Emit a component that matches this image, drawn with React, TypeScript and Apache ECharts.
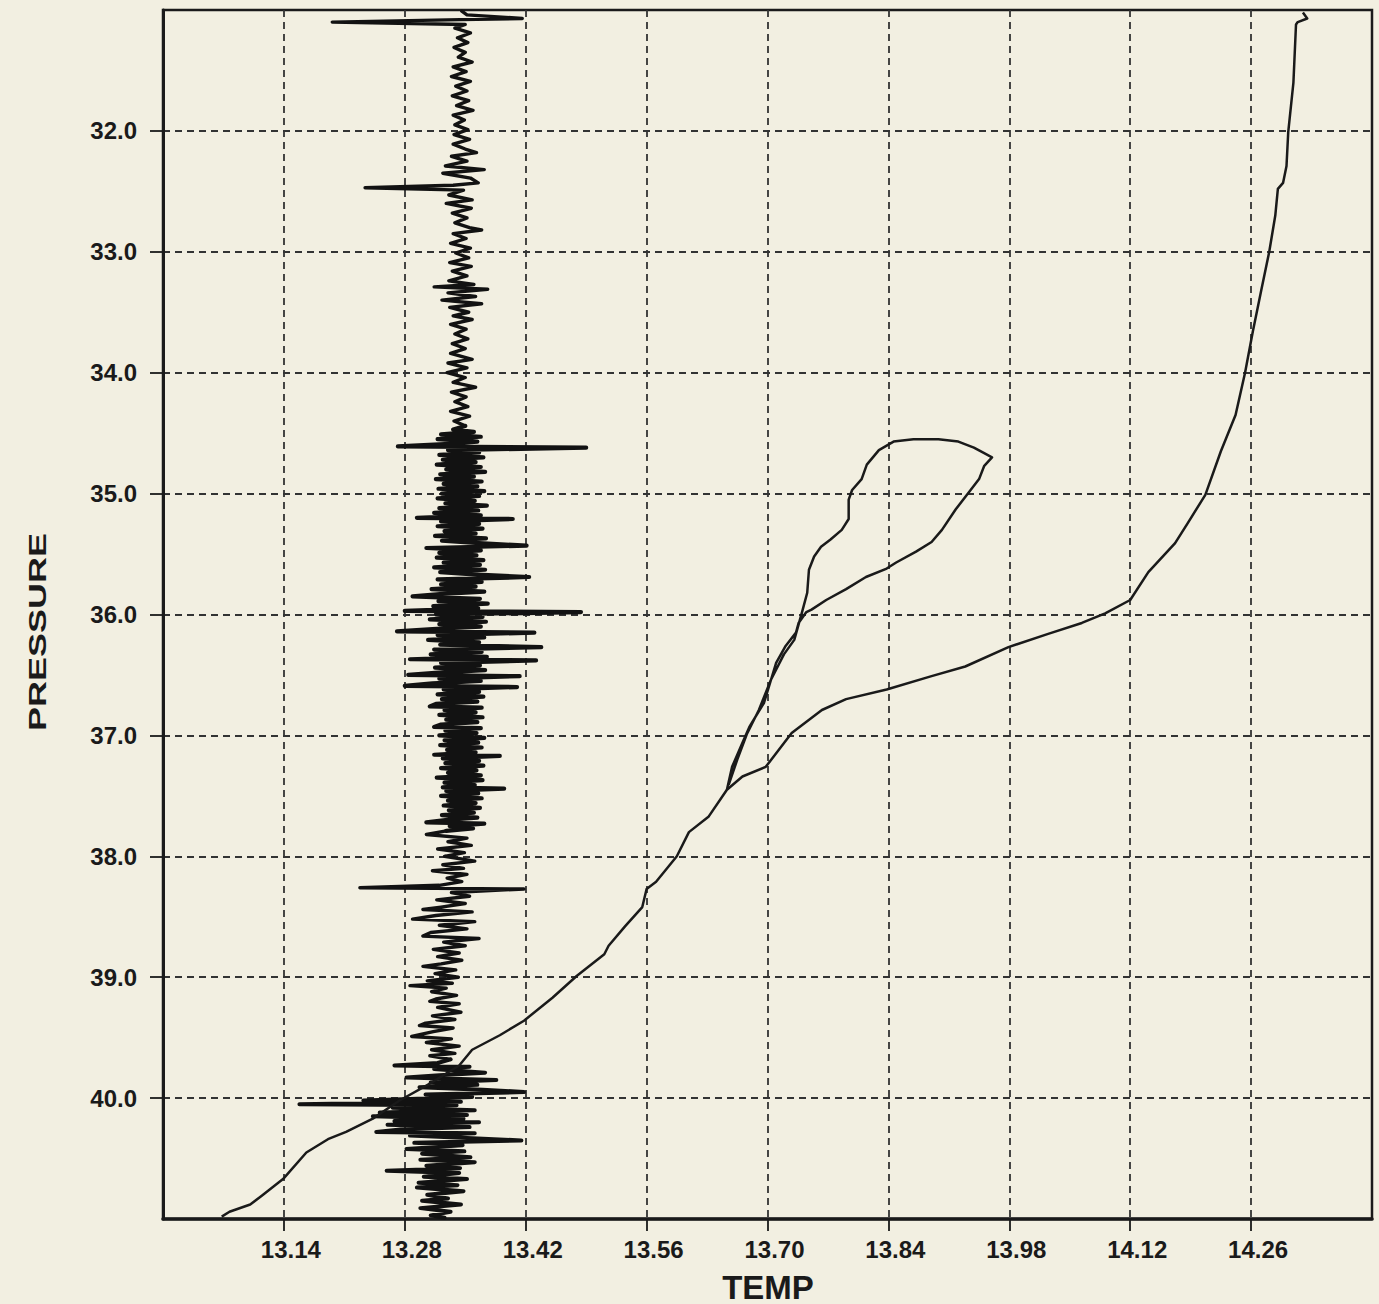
import React, { useEffect, useRef } from "react";
import * as echarts from "echarts";

// Axis origin of the TEMP axis (ticks every 0.14 counted from here)
const TEMP_ORIGIN = 13.0;
const TEMP_SPAN = 1.4;
const TEMP_STEP = 0.14;
const PRESSURE_MIN = 31;
const PRESSURE_MAX = 41;

const tempTickLabels = ["13.14", "13.28", "13.42", "13.56", "13.70", "13.84", "13.98", "14.12", "14.26"];
const pressureTickLabels = ["32.0", "33.0", "34.0", "35.0", "36.0", "37.0", "38.0", "39.0", "40.0"];

// Main temperature profile: [temp, pressure]
const profile: number[][] = [
  [14.320, 31.02], [14.325, 31.07], [14.314, 31.10], [14.312, 31.12], [14.309, 31.60], [14.303, 32.01],
  [14.301, 32.29], [14.297, 32.43], [14.291, 32.48], [14.288, 32.70], [14.281, 33.00], [14.272, 33.31],
  [14.262, 33.66], [14.253, 34.00], [14.242, 34.35], [14.225, 34.65], [14.207, 35.01], [14.187, 35.24],
  [14.172, 35.41], [14.141, 35.65], [14.120, 35.88], [14.091, 35.99], [14.064, 36.07], [14.025, 36.16],
  [13.979, 36.27], [13.929, 36.43], [13.890, 36.51], [13.838, 36.62], [13.791, 36.70], [13.763, 36.79],
  [13.728, 36.98], [13.698, 37.26], [13.671, 37.34], [13.653, 37.45], [13.632, 37.67], [13.609, 37.80],
  [13.595, 38.00], [13.571, 38.21], [13.560, 38.27], [13.555, 38.42], [13.535, 38.58], [13.516, 38.74],
  [13.511, 38.81], [13.479, 38.99], [13.451, 39.17], [13.418, 39.36], [13.390, 39.48], [13.358, 39.60],
  [13.343, 39.73], [13.309, 39.88], [13.274, 40.02], [13.243, 40.17], [13.212, 40.28], [13.191, 40.34],
  [13.166, 40.45], [13.139, 40.67], [13.114, 40.81], [13.101, 40.88], [13.077, 40.94], [13.068, 40.98],
];

// Loop branch: [temp, pressure]
const loop: number[][] = [
  [13.653, 37.45], [13.659, 37.26], [13.671, 37.06], [13.679, 36.93], [13.696, 36.73], [13.710, 36.40],
  [13.721, 36.26], [13.733, 36.15], [13.736, 36.07], [13.745, 35.98], [13.751, 35.96], [13.768, 35.88],
  [13.791, 35.79], [13.814, 35.69], [13.838, 35.62], [13.849, 35.57], [13.872, 35.48], [13.890, 35.40],
  [13.902, 35.30], [13.918, 35.13], [13.933, 34.99], [13.945, 34.88], [13.951, 34.77], [13.960, 34.70],
  [13.952, 34.67], [13.939, 34.62], [13.921, 34.57], [13.898, 34.55], [13.869, 34.55], [13.846, 34.57],
  [13.829, 34.64], [13.815, 34.76], [13.809, 34.88], [13.798, 34.97], [13.794, 35.05], [13.794, 35.21],
  [13.786, 35.30], [13.773, 35.38], [13.762, 35.44], [13.754, 35.52], [13.748, 35.63], [13.746, 35.82],
  [13.740, 35.98], [13.731, 36.21], [13.719, 36.33], [13.704, 36.54], [13.690, 36.79], [13.676, 36.99],
  [13.665, 37.20], [13.655, 37.41],
];

// Microstructure trace: [pressure, temp]
const noiseUpper: number[][] = [
  [31.01, 13.346], [31.04, 13.352], [31.07, 13.416], [31.08, 13.344], [31.10, 13.196], [31.12, 13.350],
  [31.15, 13.338], [31.19, 13.356], [31.23, 13.341], [31.27, 13.353], [31.31, 13.337], [31.35, 13.350],
  [31.39, 13.342], [31.43, 13.358], [31.47, 13.336], [31.51, 13.351], [31.55, 13.334], [31.59, 13.356],
  [31.63, 13.339], [31.67, 13.352], [31.71, 13.335], [31.75, 13.354], [31.79, 13.340], [31.83, 13.359],
  [31.87, 13.336], [31.91, 13.349], [31.95, 13.338], [31.99, 13.353], [32.03, 13.337], [32.07, 13.355],
  [32.11, 13.336], [32.15, 13.350], [32.18, 13.363], [32.21, 13.334], [32.25, 13.352], [32.29, 13.327],
  [32.32, 13.372], [32.35, 13.324], [32.39, 13.356], [32.43, 13.365], [32.45, 13.336], [32.47, 13.234],
  [32.49, 13.348], [32.53, 13.331], [32.57, 13.358], [32.60, 13.328], [32.64, 13.357], [32.68, 13.335],
  [32.72, 13.352], [32.76, 13.338], [32.80, 13.355], [32.82, 13.369], [32.85, 13.336], [32.89, 13.351],
  [32.93, 13.333], [32.97, 13.356], [33.01, 13.339], [33.05, 13.354], [33.09, 13.332], [33.12, 13.357],
  [33.16, 13.335], [33.20, 13.352], [33.24, 13.331], [33.27, 13.360], [33.29, 13.314], [33.31, 13.376],
  [33.34, 13.330], [33.37, 13.362], [33.40, 13.323], [33.43, 13.369], [33.46, 13.332], [33.50, 13.354],
  [33.53, 13.336], [33.56, 13.358], [33.60, 13.333], [33.64, 13.351], [33.68, 13.338], [33.72, 13.353],
  [33.76, 13.335], [33.80, 13.350], [33.84, 13.333], [33.89, 13.358], [33.92, 13.330], [33.96, 13.352],
  [34.00, 13.329], [34.04, 13.350], [34.08, 13.336], [34.12, 13.362], [34.16, 13.334], [34.20, 13.351],
  [34.24, 13.338], [34.28, 13.353], [34.32, 13.333], [34.36, 13.355], [34.40, 13.337], [34.44, 13.350],
];

const noiseBurst: number[][] = [
  [34.47, 13.336], [34.49, 13.360], [34.51, 13.322], [34.53, 13.368], [34.55, 13.318], [34.57, 13.364],
  [34.59, 13.326], [34.61, 13.272], [34.62, 13.490], [34.64, 13.330], [34.66, 13.366], [34.68, 13.320],
  [34.70, 13.371], [34.72, 13.324], [34.74, 13.362], [34.76, 13.317], [34.78, 13.368], [34.80, 13.328],
  [34.82, 13.373], [34.84, 13.321], [34.86, 13.360], [34.88, 13.316], [34.90, 13.369], [34.92, 13.325],
  [34.94, 13.364], [34.96, 13.319], [34.98, 13.372], [35.00, 13.323], [35.02, 13.366], [35.04, 13.318],
  [35.06, 13.361], [35.08, 13.327], [35.10, 13.375], [35.12, 13.320], [35.14, 13.365], [35.16, 13.314],
  [35.18, 13.368], [35.20, 13.294], [35.21, 13.405], [35.23, 13.322], [35.25, 13.366], [35.27, 13.318],
  [35.29, 13.370], [35.31, 13.326], [35.33, 13.362], [35.35, 13.315], [35.37, 13.374], [35.39, 13.323],
  [35.41, 13.366], [35.43, 13.421], [35.45, 13.305], [35.47, 13.368], [35.49, 13.320], [35.51, 13.363],
  [35.53, 13.317], [35.55, 13.371], [35.57, 13.325], [35.59, 13.367], [35.61, 13.314], [35.63, 13.373],
  [35.65, 13.321], [35.67, 13.364], [35.69, 13.424], [35.71, 13.318], [35.73, 13.369], [35.75, 13.322],
  [35.77, 13.362], [35.79, 13.311], [35.81, 13.372], [35.83, 13.324], [35.85, 13.289], [35.87, 13.367],
  [35.89, 13.319], [35.91, 13.376], [35.93, 13.313], [35.95, 13.365], [35.97, 13.280], [35.98, 13.484],
  [36.00, 13.316], [36.02, 13.370], [36.04, 13.309], [36.06, 13.374], [36.08, 13.320], [36.10, 13.368],
  [36.12, 13.312], [36.14, 13.271], [36.15, 13.430], [36.17, 13.318], [36.19, 13.372], [36.21, 13.307],
  [36.23, 13.366], [36.25, 13.321], [36.27, 13.438], [36.29, 13.314], [36.31, 13.369], [36.33, 13.310],
  [36.35, 13.375], [36.37, 13.286], [36.38, 13.432], [36.40, 13.322], [36.42, 13.367], [36.44, 13.315],
  [36.46, 13.373], [36.48, 13.319], [36.50, 13.284], [36.51, 13.413], [36.53, 13.320], [36.55, 13.368],
  [36.57, 13.312], [36.59, 13.280], [36.60, 13.410], [36.62, 13.325], [36.64, 13.366], [36.66, 13.318],
  [36.68, 13.371], [36.70, 13.323], [36.72, 13.364], [36.74, 13.316], [36.76, 13.309], [36.77, 13.369],
  [36.79, 13.326], [36.81, 13.362], [36.83, 13.320], [36.85, 13.370], [36.87, 13.328], [36.89, 13.364],
  [36.91, 13.322], [36.93, 13.314], [36.94, 13.368], [36.96, 13.327], [36.98, 13.363], [37.00, 13.320],
  [37.02, 13.372], [37.04, 13.326], [37.06, 13.365], [37.08, 13.321], [37.10, 13.369], [37.12, 13.329],
  [37.14, 13.362], [37.16, 13.314], [37.17, 13.390], [37.19, 13.324], [37.21, 13.366], [37.23, 13.327],
  [37.25, 13.371], [37.27, 13.322], [37.29, 13.363], [37.31, 13.330], [37.33, 13.368], [37.35, 13.317],
  [37.37, 13.370], [37.39, 13.326], [37.41, 13.361], [37.43, 13.324], [37.44, 13.395], [37.46, 13.328],
  [37.48, 13.365], [37.50, 13.322], [37.52, 13.369], [37.54, 13.330], [37.56, 13.362], [37.58, 13.325],
  [37.60, 13.367], [37.62, 13.331], [37.64, 13.360], [37.66, 13.323], [37.68, 13.364], [37.70, 13.327],
  [37.72, 13.305], [37.73, 13.372], [37.75, 13.332], [37.77, 13.359], [37.79, 13.328],
];

const noiseMiddle: number[][] = [
  [37.82, 13.305], [37.85, 13.352], [37.88, 13.330], [37.91, 13.357], [37.94, 13.318], [37.97, 13.349],
  [38.00, 13.326], [38.04, 13.361], [38.07, 13.324], [38.10, 13.348], [38.12, 13.312], [38.15, 13.352],
  [38.18, 13.329], [38.21, 13.346], [38.24, 13.320], [38.26, 13.228], [38.27, 13.418], [38.30, 13.334],
  [38.33, 13.355], [38.36, 13.317], [38.39, 13.350], [38.42, 13.322], [38.44, 13.301], [38.46, 13.358],
  [38.49, 13.316], [38.52, 13.289], [38.54, 13.361], [38.57, 13.320], [38.60, 13.352], [38.63, 13.310],
  [38.66, 13.301], [38.68, 13.366], [38.71, 13.325], [38.74, 13.350], [38.77, 13.313], [38.80, 13.343],
  [38.83, 13.318], [38.86, 13.346], [38.89, 13.322], [38.91, 13.301], [38.94, 13.339], [38.97, 13.315],
  [39.00, 13.342], [39.03, 13.306], [39.05, 13.335], [39.07, 13.286], [39.09, 13.328], [39.12, 13.311],
  [39.15, 13.340], [39.18, 13.316], [39.20, 13.309], [39.22, 13.343], [39.25, 13.318], [39.29, 13.345],
  [39.32, 13.312], [39.35, 13.338], [39.38, 13.304], [39.40, 13.297], [39.42, 13.336], [39.45, 13.313],
  [39.49, 13.288], [39.51, 13.334], [39.54, 13.305], [39.57, 13.343], [39.60, 13.311], [39.63, 13.338],
  [39.65, 13.309], [39.68, 13.333],
];

const noiseLower: number[][] = [
  [39.71, 13.318], [39.73, 13.268], [39.74, 13.355], [39.76, 13.314], [39.79, 13.373], [39.81, 13.320],
  [39.83, 13.282], [39.85, 13.386], [39.87, 13.310], [39.89, 13.364], [39.91, 13.297], [39.93, 13.370],
  [39.95, 13.418], [39.97, 13.304], [39.99, 13.358], [40.02, 13.232], [40.03, 13.345], [40.05, 13.158],
  [40.06, 13.340], [40.08, 13.266], [40.10, 13.361], [40.12, 13.251], [40.14, 13.352], [40.15, 13.243],
  [40.17, 13.348], [40.19, 13.268], [40.20, 13.366], [40.22, 13.260], [40.24, 13.355], [40.26, 13.275],
  [40.28, 13.247], [40.29, 13.361], [40.31, 13.286], [40.33, 13.352], [40.35, 13.415], [40.37, 13.291],
  [40.39, 13.347], [40.42, 13.282], [40.44, 13.349], [40.46, 13.300], [40.49, 13.356], [40.51, 13.298],
  [40.53, 13.361], [40.56, 13.305], [40.58, 13.344], [40.60, 13.259], [40.62, 13.343], [40.65, 13.302],
  [40.67, 13.352], [40.70, 13.296], [40.72, 13.341], [40.74, 13.294], [40.77, 13.348], [40.80, 13.306],
  [40.83, 13.330], [40.85, 13.300], [40.88, 13.345], [40.91, 13.298], [40.94, 13.333], [40.97, 13.310],
  [40.99, 13.326],
];

const FONT = "'Liberation Sans', Arial, Helvetica, sans-serif";
const INK = "#1a1a1a";
const PAPER = "#f2efe1";

const toXY = (tp: number[]) => [tp[0] - TEMP_ORIGIN, tp[1]];
const noiseToXY = (pt: number[]) => [pt[1] - TEMP_ORIGIN, pt[0]];

export default function App() {
  const ref = useRef<HTMLDivElement>(null);

  useEffect(() => {
    document.body.style.margin = "0";
    document.body.style.background = PAPER;
    if (!ref.current) return;
    const chart = echarts.init(ref.current, null, { renderer: "svg" });

    // Each segment continues from the last reading of the previous one.
    const segments = [
      { data: noiseUpper, width: 3.4 },
      { data: noiseBurst, width: 4.2 },
      { data: noiseMiddle, width: 3.4 },
      { data: noiseLower, width: 4 },
    ];
    const noiseSeries = segments.map((seg, i) => {
      const prev = i > 0 ? segments[i - 1].data : null;
      const pts = prev ? [prev[prev.length - 1], ...seg.data] : seg.data;
      return {
        name: "microstructure-" + i,
        type: "line",
        data: pts.map(noiseToXY),
        showSymbol: false,
        symbol: "none",
        lineStyle: { color: "#121212", width: seg.width, join: "round", cap: "round" },
        z: 3,
      };
    });

    const dashed = { color: "#333333", width: 1.8, type: [7, 5] as number[] };

    chart.setOption({
      animation: false,
      backgroundColor: PAPER,
      grid: {
        left: 163,
        right: 7,
        top: 10,
        bottom: 85,
        show: true,
        borderColor: INK,
        borderWidth: 2.5,
        backgroundColor: "transparent",
      },
      xAxis: {
        type: "value",
        min: 0,
        max: TEMP_SPAN,
        interval: TEMP_STEP,
        axisLine: { show: true, onZero: false, lineStyle: { color: INK, width: 3.5 } },
        axisTick: { show: true, inside: false, length: 12, lineStyle: { color: INK, width: 1.8 } },
        axisLabel: {
          showMinLabel: false,
          showMaxLabel: false,
          margin: 18,
          padding: [0, 0, 0, 14],
          fontSize: 24,
          fontWeight: "bold",
          fontFamily: FONT,
          color: INK,
          formatter: (v: number) => {
            const s = (v + TEMP_ORIGIN).toFixed(2);
            return tempTickLabels.includes(s) ? s : "";
          },
        },
        splitLine: { show: true, showMinLine: false, showMaxLine: false, lineStyle: dashed },
      },
      yAxis: {
        type: "value",
        inverse: true,
        min: PRESSURE_MIN,
        max: PRESSURE_MAX,
        interval: 1,
        axisLine: { show: true, onZero: false, lineStyle: { color: INK, width: 3 } },
        axisTick: { show: true, inside: false, length: 13, lineStyle: { color: INK, width: 1.8 } },
        axisLabel: {
          showMinLabel: false,
          showMaxLabel: false,
          margin: 26,
          fontSize: 24,
          fontWeight: "bold",
          fontFamily: FONT,
          color: INK,
          formatter: (v: number) => {
            const s = v.toFixed(1);
            return pressureTickLabels.includes(s) ? s : "";
          },
        },
        splitLine: { show: true, showMinLine: false, showMaxLine: false, lineStyle: dashed },
      },
      graphic: [
        {
          type: "text",
          x: 768,
          y: 1287,
          style: {
            text: "TEMP",
            fontSize: 33,
            fontWeight: "bold",
            fontFamily: FONT,
            fill: INK,
            align: "center",
            verticalAlign: "middle",
          },
        },
        {
          type: "text",
          x: 37,
          y: 632,
          rotation: Math.PI / 2,
          scaleX: 1.5,
          style: {
            text: "PRESSURE",
            fontSize: 24,
            fontWeight: "bold",
            fontFamily: FONT,
            fill: INK,
            align: "center",
            verticalAlign: "middle",
          },
        },
      ],
      series: [
        ...noiseSeries,
        {
          name: "profile",
          type: "line",
          data: profile.map(toXY),
          showSymbol: false,
          symbol: "none",
          lineStyle: { color: INK, width: 2.5, join: "round" },
          z: 4,
        },
        {
          name: "loop",
          type: "line",
          data: loop.map(toXY),
          showSymbol: false,
          symbol: "none",
          lineStyle: { color: INK, width: 2.5, join: "round" },
          z: 4,
        },
      ],
    });

    return () => chart.dispose();
  }, []);

  return <div ref={ref} style={{ width: 1379, height: 1304 }} />;
}
